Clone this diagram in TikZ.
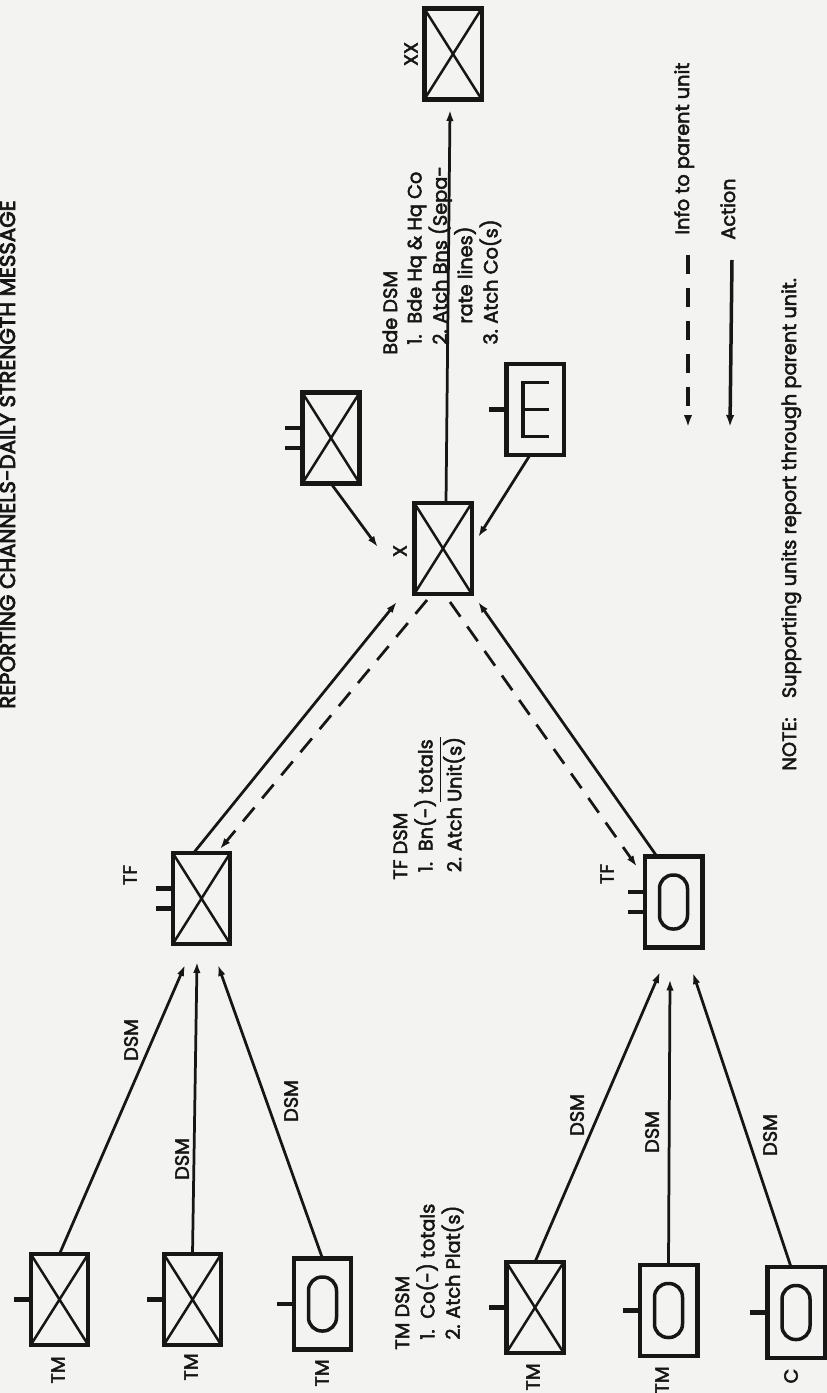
\documentclass[tikz,border=0pt]{standalone}
\usepackage{fontspec}
\setmainfont{Poppins}[FakeBold=2.6]
\newfontfamily\titlefont{Poppins}[FakeBold=3.6]
\usetikzlibrary{calc,arrows.meta}
\definecolor{paper}{RGB}{243,243,241}
\definecolor{ink}{RGB}{22,22,22}
\begin{document}
\begin{tikzpicture}[x=0.02cm, y=-0.02cm,
  unit/.style={draw=ink, line width=0.09cm, minimum width=1.15cm, minimum height=1.82cm, inner sep=0pt, outer sep=0pt},
  xbox/.style={unit, path picture={\draw[ink, line width=0.05cm] (path picture bounding box.north west) -- (path picture bounding box.south east) (path picture bounding box.north east) -- (path picture bounding box.south west);}},
  obox/.style={unit, path picture={\draw[ink, line width=0.07cm, rounded corners=0.27cm] ($(path picture bounding box.center)+(-14,-27)$) rectangle ($(path picture bounding box.center)+(14,27)$);}},
  ebox/.style={unit, path picture={\draw[ink, line width=0.07cm] ($(path picture bounding box.center)+(14,-27)$) -- ++(-26,0) -- ++(0,54) -- ++(26,0) ($(path picture bounding box.center)+(-12,0)$) -- ++(26,0);}},
  stub/.style={draw=ink, line width=0.09cm},
  lab/.style={rotate=90, inner sep=0pt, font=\fontsize{11}{13}\selectfont, text=ink},
  blk/.style={rotate=90, inner sep=0pt, anchor=base west, font=\fontsize{11}{13.9}\selectfont, text=ink},
  act/.style={draw=ink, line width=0.055cm, -{Latex[length=0.22cm,width=0.15cm]}},
  info/.style={act, dash pattern=on 0.36cm off 0.24cm},
  legact/.style={draw=ink, line width=0.07cm, -{Latex[length=0.24cm,width=0.17cm]}},
  leginfo/.style={legact, dash pattern=on 0.38cm off 0.28cm}
]
\fill[paper] (0,0) rectangle (827,1393);
\useasboundingbox (0,0) rectangle (827,1393);

% title
\node[lab, anchor=base east, font=\titlefont\fontsize{12.1}{13}\selectfont] (title) at (15,200) {REPORTING CHANNELS-DAILY STRENGTH MESSAGE};

% unit boxes
\node[xbox] (xx) at (453,54) {};
\node[xbox] (bde) at (443,548.5) {};
\node[xbox] (bn) at (331,438) {};
\node[ebox] (eng) at (535,409.5) {};
\node[xbox] (tfx) at (201.5,898.5) {};
\node[obox] (tfo) at (673.5,902) {};
\node[xbox] (tm1) at (59.5,1299.5) {};
\node[xbox] (tm2) at (192.5,1299.5) {};
\node[obox] (tm3) at (322.5,1304) {};
\node[xbox] (tm4) at (535,1307.5) {};
\node[obox] (tm5) at (668.5,1310.5) {};
\node[obox] (cc) at (796,1312.5) {};

% stubs
\foreach \n in {tm1,tm2,tm3,tm4,tm5,cc,eng}{\draw[stub] (\n.west) -- ++(-17,0);}
\foreach \n in {bn,tfx,tfo}{\draw[stub] ($(\n.west)+(0,-10)$) -- ++(-17,0) ($(\n.west)+(0,10)$) -- ++(-17,0);}

% unit labels
\node[lab] (lxx) at (411,54) {XX};
\node[lab] (lx) at (400,551) {X};
\node[lab] (ltf1) at (130,875) {TF};
\node[lab] (ltf2) at (607,874) {TF};
\node[lab] (ltm1) at (58,1370) {TM};
\node[lab] (ltm2) at (191,1367) {TM};
\node[lab] (ltm3) at (322,1373) {TM};
\node[lab] (ltm4) at (533,1377) {TM};
\node[lab] (ltm5) at (662,1380) {TM};
\node[lab] (lc) at (791,1376) {C};

% DSM connectors
\draw[act] (tm1.north) -- ($(tfx.south)+(-16.5,21)$);
\draw[act] (tm2.north) -- ($(tfx.south)+(-4.5,18)$);
\draw[act] (tm3.north) -- ($(tfx.south)+(16.5,21)$);
\draw[act] (tm4.north) -- ($(tfo.south)+(-13.5,24.5)$);
\draw[act] (tm5.north) -- ($(tfo.south)+(-3.5,32)$);
\draw[act] ($(cc.north)+(-5,0)$) -- ($(tfo.south)+(19.5,25.5)$);
\node[lab] (d1) at (131,1040) {DSM};
\node[lab] (d2) at (182,1159) {DSM};
\node[lab] (d3) at (291,1101) {DSM};
\node[lab] (d4) at (577,1115) {DSM};
\node[lab] (d5) at (652,1132) {DSM};
\node[lab] (d6) at (770,1135) {DSM};

% TF <-> Bde
\draw[act] ($(tfx.north)+(-8,0)$) -- ($(bde.south west)+(-17.5,8)$);
\draw[info] ($(bde.south)+(-16,6)$) -- ($(tfx.north)+(18.5,-4)$);
\draw[act] ($(tfo.north)+(-16.5,0)$) -- ($(bde.south east)+(6.5,8)$);
\draw[info] ($(bde.south)+(7,8)$) -- ($(tfo.north west)+(-8,10)$);
\draw[act] (bn.south) -- ($(bde.west)+(-36.5,-1.5)$);
\draw[act] ($(eng.south)+(-5,0)$) -- ($(bde.east)+(6.5,-11.5)$);
\draw[act] ($(bde.north)+(3,0)$) -- ($(xx.south)+(-3,10.5)$);

% text blocks
\node[blk] (bdedsm) at (397,355) {\begin{tabular}[t]{@{\hspace{0.2cm}}p{0.42cm}@{}l@{}}
\multicolumn{2}{@{}l@{}}{Bde DSM}\\
1. & Bde Hq \& Hq Co\\
2. & Atch Bns (Sepa-\\
   & rate lines)\\
3. & Atch Co(s)
\end{tabular}};
\node[blk] (tfdsm) at (407,880) {\begin{tabular}[t]{@{\hspace{0.15cm}}p{0.42cm}@{}l@{}}
\multicolumn{2}{@{}l@{}}{TF DSM}\\
1. & Bn(-) totals\\
2. & Atch $\overline{\mbox{Unit(s)}}$
\end{tabular}};
\node[blk] (tmdsm) at (409,1350) {\begin{tabular}[t]{@{\hspace{0.2cm}}p{0.42cm}@{}l@{}}
\multicolumn{2}{@{}l@{}}{TM DSM}\\
1. & Co(-) totals\\
2. & Atch Plat(s)
\end{tabular}};

% legend
\coordinate (li1) at (688,255);
\coordinate (li2) at (688,427);
\draw[leginfo] (li1) -- (li2);
\node[lab, anchor=base west] (linfo) at (689,235) {Info to parent unit};
\coordinate (la1) at (732,260);
\coordinate (la2) at (730,427);
\draw[legact] (la1) -- (la2);
\node[lab, anchor=base west] (lact) at (735,240) {Action};

% note
\node[lab, anchor=base west] (note) at (796,771) {NOTE:\quad Supporting units report through parent unit.};
\end{tikzpicture}
\end{document}
